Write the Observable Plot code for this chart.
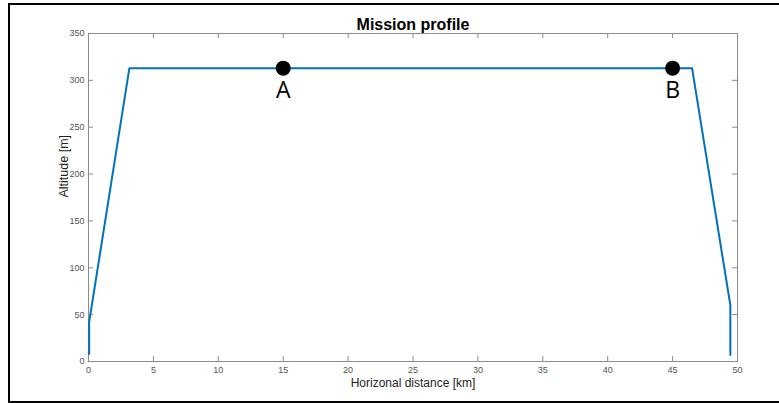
<!DOCTYPE html>
<html>
<head>
<meta charset="utf-8">
<script src="https://cdn.jsdelivr.net/npm/d3@7"></script>
<script src="https://cdn.jsdelivr.net/npm/@observablehq/plot@0.6"></script>
<style>
  html, body { margin: 0; padding: 0; background: #fff; }
  #wrap { position: relative; width: 779px; height: 403px; overflow: hidden; }
  #border {
    position: absolute; left: 8px; top: 3px; right: -4px; height: 396px;
    border-left: 2px solid #000; border-top: 2px solid #000; border-bottom: 2px solid #000;
    pointer-events: none;
  }
  #chart { position: absolute; left: 0; top: 0; }
</style>
</head>
<body>
<div id="wrap"><div id="chart"></div><div id="border"></div></div>
<script>
// Flight path: horizontal distance (km) and altitude (m)
const distanceKm = [0.05, 0.05, 3.15, 46.5, 49.45, 49.45];
const altitudeM  = [8, 42, 313, 313, 60, 7];

// Labelled waypoints along the cruise segment
const waypointNames = ["A", "B"];
const waypointKm    = [15, 45];
const waypointAlt   = [313, 313];

// Tick values
const xTicks = [0, 5, 10, 15, 20, 25, 30, 35, 40, 45, 50];
const yTicks = [0, 50, 100, 150, 200, 250, 300, 350];

const path = distanceKm.map((d, i) => ({x: d, y: altitudeM[i]}));
const waypoints = waypointNames.map((n, i) => ({name: n, x: waypointKm[i], y: waypointAlt[i]}));

const width = 779, height = 403;
const margin = {top: 33, right: 42, bottom: 42, left: 88};
const plotW = width - margin.left - margin.right;
const plotH = height - margin.top - margin.bottom;
const axisColor = "#8c8c8c";
const tickText = "#555";
const tickLen = 5;

const chart = Plot.plot({
  width, height,
  marginTop: margin.top, marginRight: margin.right,
  marginBottom: margin.bottom, marginLeft: margin.left,
  style: {fontFamily: "'Liberation Sans', Arial, sans-serif", background: "transparent"},
  x: {domain: [0, 50]},
  y: {domain: [0, 350]},
  marks: [
    Plot.frame({stroke: axisColor, strokeWidth: 1}),
    // inward ticks on all four sides
    Plot.ruleX(xTicks, {x: d => d, stroke: axisColor, insetTop: plotH - tickLen}),
    Plot.ruleX(xTicks, {x: d => d, stroke: axisColor, insetBottom: plotH - tickLen}),
    Plot.ruleY(yTicks, {y: d => d, stroke: axisColor, insetRight: plotW - tickLen}),
    Plot.ruleY(yTicks, {y: d => d, stroke: axisColor, insetLeft: plotW - tickLen}),
    Plot.axisX({ticks: xTicks, tickSize: 0, tickPadding: 5, fontSize: 9, fill: tickText, label: null}),
    Plot.axisY({ticks: yTicks, tickSize: 0, tickPadding: 4, fontSize: 9, fill: tickText, label: null}),
    // axis titles and chart title
    Plot.text(["Horizonal distance [km]"], {frameAnchor: "bottom", dy: 25, fontSize: 12, fill: "#222"}),
    Plot.text(["Altitude [m]"], {frameAnchor: "left", dx: -25, rotate: -90, fontSize: 12.5, fill: "#222"}),
    Plot.text(["Mission profile"], {frameAnchor: "top", dy: -15, fontSize: 16, fontWeight: "bold", fill: "#000"}),
    // profile line
    Plot.line(path, {x: "x", y: "y", stroke: "#0072BD", strokeWidth: 2}),
    // waypoints
    Plot.dot(waypoints, {x: "x", y: "y", r: 7.5, fill: "#000", stroke: "none"}),
    Plot.text(waypoints, {x: "x", y: "y", text: "name", dy: 22, fontSize: 23, fill: "#000",
      fontFamily: "'Open Sans', 'Liberation Sans', sans-serif"})
  ]
});
document.getElementById("chart").appendChild(chart);
</script>
</body>
</html>
